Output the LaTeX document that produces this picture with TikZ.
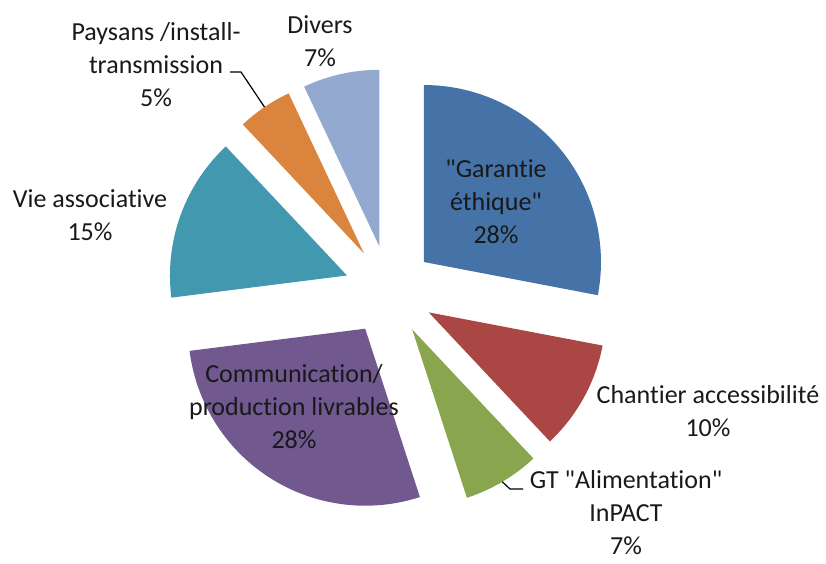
\documentclass[tikz,border=0pt]{standalone}
\usepackage{fontspec}
\setmainfont{Carlito}[Ligatures={TeXOff,NoCommon}]
\usetikzlibrary{positioning}
\definecolor{garBlue}{RGB}{69,114,167}
\definecolor{chaRed}{RGB}{170,70,67}
\definecolor{gtGreen}{RGB}{137,165,78}
\definecolor{comPurple}{RGB}{113,88,143}
\definecolor{vieTeal}{RGB}{65,152,175}
\definecolor{payOrange}{RGB}{219,132,61}
\definecolor{divBlue}{RGB}{147,169,207}
\tikzset{
    lbl/.style={align=center, inner sep=0pt, text=black!90,
        font=\fontsize{26}{33}\selectfont},
    leader/.style={draw=black, line width=1.2pt}
}
\begin{document}
\begin{tikzpicture}[x=1pt,y=1pt]
    \def \R {177}
    \def \d {45}
    \useasboundingbox (0,0) rectangle (826,-563);
    \coordinate (c) at (389.3,-290.7);
    % exploded slices, clockwise from the top
    \foreach \n/\a/\b/\col in {1/90/-10.8/garBlue, 2/-10.8/-46.8/chaRed,
        3/-46.8/-72/gtGreen, 4/-72/-172.8/comPurple, 5/-172.8/-226.8/vieTeal,
        6/-226.8/-244.8/payOrange, 7/-244.8/-270/divBlue}{
        \pgfmathsetmacro{\m}{(\a+\b)/2}
        \coordinate (p\n) at ([shift={(\m:\d)}]c);
        \coordinate (m\n) at ([shift={(\m:\R)}]p\n);
        \fill[\col] (p\n) -- ++(\a:\R) arc[start angle=\a, end angle=\b, radius=\R] -- cycle;
    }
    \node[lbl] (tGar) at (496,-202) {"Garantie\\éthique"\\28\%};
    \node[lbl] (tCha) at (708,-411) {Chantier accessibilité\\10\%};
    \node[lbl] (tGT) at (626,-513) {GT "Alimentation"\\InPACT\\7\%};
    \node[lbl] (tCom) at (294,-407) {Communication/\\production livrables\\28\%};
    \node[lbl] (tVie) at (90,-215) {Vie associative\\15\%};
    \node[lbl] (tPay) at (156,-65) {Paysans /install-\\transmission\\5\%};
    \node[lbl] (tDiv) at (320,-41) {Divers\\7\%};
    % leader lines
    \coordinate (k6) at (230,-72);
    \coordinate (k3) at (523,-489);
    \draw[leader] (k6) -- ++(11,0) -- (m6);
    \draw[leader] (k3) -- ++(-13,0) -- (m3);
\end{tikzpicture}
\end{document}
